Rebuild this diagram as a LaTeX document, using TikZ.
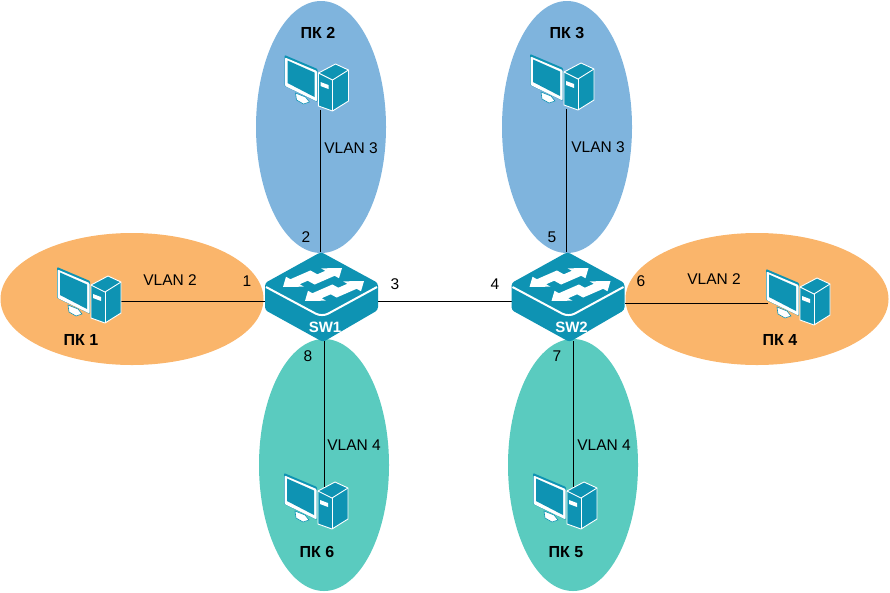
\documentclass[tikz,border=0pt]{standalone}
\usepackage{fontspec}
\setmainfont{Liberation Sans}
\usetikzlibrary{shapes.geometric, backgrounds}

\definecolor{zoneorange}{HTML}{FAB56B}
\definecolor{zoneblue}{HTML}{7FB4DD}
\definecolor{zonegreen}{HTML}{5ACBBF}
\definecolor{icon}{HTML}{0E93B3}

\begin{document}
\begin{tikzpicture}[
        x=1pt,
        y=-1pt,
        zone/.style={
            ellipse,
            inner sep=0pt
        },
        widezone/.style={
            zone,
            minimum width=263pt,
            minimum height=132pt
        },
        tallzone/.style={
            zone,
            minimum width=130pt,
            minimum height=252pt
        },
        link/.style={
            line width=1pt,
            black
        },
        vlanlabel/.style={
            font=\fontsize{15.5}{18}\selectfont,
            inner sep=0pt
        },
        portlabel/.style={
            font=\fontsize{15.5}{18}\selectfont,
            inner sep=0pt
        },
        pclabel/.style={
            font=\fontsize{16}{18}\selectfont\bfseries,
            inner sep=0pt
        },
        switchicon/.pic={
            \path[fill=icon, rounded corners=3pt]
                (0,31) -- (56,0) -- (113,31) -- (113,58) -- (58,90) -- (0,58) -- cycle;
            \draw[white, line width=2pt, rounded corners=7pt]
                (1,35) -- (57,65) -- (112,35);
            % flow arrows, drawn along the axes of the top face
            \foreach \tailx/\taily/\dir in {50/21/-1, 45/30/1, 72/35/-1, 67/43/1} {
                \begin{scope}[shift={(\tailx,\taily)}, x={(\dir*1pt,\dir*0.436pt)}, y={(1pt,-0.55pt)}]
                    \path[fill=white]
                        (0,-4.6) -- (20,-4.6) -- (20,-9) -- (32,0) -- (20,9) -- (20,4.6) -- (0,4.6) -- cycle;
                \end{scope}
            }
            \node[
                font=\fontsize{15}{16}\selectfont\bfseries,
                text=white,
                inner sep=0pt
            ] (-name) at (60,75) {\tikzpictext};
            \coordinate (-n) at (56,0);
            \coordinate (-s) at (58,89);
            \coordinate (-w) at (0,49);
            \coordinate (-e) at (113,49);
        },
        computericon/.pic={
            % monitor
            \draw[fill=white, draw=icon, line width=0.6pt] (11,38) -- (21,42) -- (25,47) -- (19,49) -- (12,45) -- cycle;
            \path[fill=icon, rounded corners=1pt] (0,0) -- (33,14) -- (33,47) -- (0,31) -- cycle;
            \path[fill=white, rounded corners=1pt] (0.5,2.5) -- (32.5,16) -- (32.5,46.5) -- (0.5,31) -- cycle;
            \path[fill=icon] (3,5.5) -- (30,17.5) -- (30,42) -- (3,28) -- cycle;
            % tower
            \draw[fill=icon, draw=white, line width=0.9pt, line join=round]
                (34,18) -- (51,9) -- (64,15) -- (64,46) -- (48,56) -- (34,51) -- cycle;
            \draw[white, line width=0.9pt] (34,18) -- (48,25) -- (64,15);
            \draw[white, line width=0.9pt] (48,25) -- (48,56);
            \path[fill=white] (36,27) -- (44,30) -- (44,34) -- (36,31) -- cycle;
            \coordinate (-n) at (36,15);
            \coordinate (-s) at (36,55);
            \coordinate (-w) at (2,34);
            \coordinate (-e) at (64,34);
            \coordinate (-t) at (40,16);
        }
    ]

        \useasboundingbox (0,0) rectangle (890,592);

        % ---------------------------------------------------------------------
        % VLAN zones
        % ---------------------------------------------------------------------

        \begin{scope}[on background layer]
            \node[widezone, fill=zoneorange] (zone1) at (132,299) {};
            \node[tallzone, fill=zoneblue] (zone2) at (321,127) {};
            \node[tallzone, fill=zoneblue] (zone3) at (567,127) {};
            \node[widezone, fill=zoneorange] (zone4) at (757,299) {};
            \node[tallzone, fill=zonegreen] (zone5) at (573,465) {};
            \node[tallzone, fill=zonegreen] (zone6) at (324,465) {};
        \end{scope}

        % ---------------------------------------------------------------------
        % Switches and computers
        % ---------------------------------------------------------------------

        \pic[pic text=SW1] (sw1) at (265,252) {switchicon};
        \pic[pic text=SW2] (sw2) at (511.5,252) {switchicon};

        \pic (pc1) at (57,267) {computericon};
        \pic (pc2) at (284.5,55) {computericon};
        \pic (pc3) at (530,54) {computericon};
        \pic (pc4) at (766,269) {computericon};
        \pic (pc5) at (533,473) {computericon};
        \pic (pc6) at (284,473) {computericon};

        % ---------------------------------------------------------------------
        % Links
        % ---------------------------------------------------------------------

        \begin{scope}[on background layer]
            \draw[link] (pc1-e) -- (sw1-w);
            \draw[link] (pc2-s) -- (pc2-s |- sw1-n);
            \draw[link] (pc3-s) -- (pc3-s |- sw2-n);
            \draw[link] (pc4-w) -- (pc4-w -| sw2-e);
            \draw[link] (pc5-t |- sw2-s) -- (pc5-t);
            \draw[link] (pc6-t |- sw1-s) -- (pc6-t);
            \draw[link] (sw1-e) -- (sw2-w);
        \end{scope}

        % ---------------------------------------------------------------------
        % Labels
        % ---------------------------------------------------------------------

        \node[pclabel] (name1) at (81,340) {ПК 1};
        \node[pclabel] (name2) at (318,33) {ПК 2};
        \node[pclabel] (name3) at (567,33) {ПК 3};
        \node[pclabel] (name4) at (780,340) {ПК 4};
        \node[pclabel] (name5) at (566,552) {ПК 5};
        \node[pclabel] (name6) at (317,552) {ПК 6};

        \node[vlanlabel] (vlan1) at (170,280) {VLAN 2};
        \node[vlanlabel] (vlan2) at (351,148) {VLAN 3};
        \node[vlanlabel] (vlan3) at (598,147) {VLAN 3};
        \node[vlanlabel] (vlan4) at (714,279) {VLAN 2};
        \node[vlanlabel] (vlan5) at (604,445) {VLAN 4};
        \node[vlanlabel] (vlan6) at (354,445) {VLAN 4};

        \node[portlabel] (port1) at (247,281) {1};
        \node[portlabel] (port2) at (306,237) {2};
        \node[portlabel] (port3) at (395,284) {3};
        \node[portlabel] (port4) at (495,284) {4};
        \node[portlabel] (port5) at (552,237) {5};
        \node[portlabel] (port6) at (641,281) {6};
        \node[portlabel] (port7) at (557,356) {7};
        \node[portlabel] (port8) at (308,356) {8};

    \end{tikzpicture}
\end{document}
